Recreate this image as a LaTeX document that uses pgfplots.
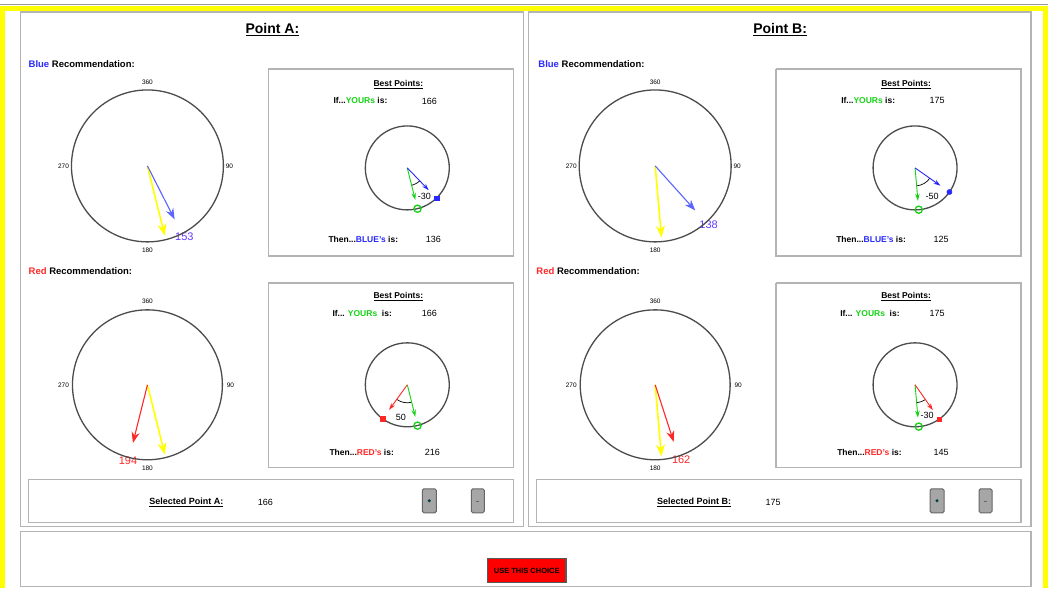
\documentclass[border=0pt]{standalone}
\usepackage{pgfplots}
\pgfplotsset{compat=1.18}
\usepackage{fontspec}
\setmainfont{Liberation Sans}
\usetikzlibrary{arrows.meta}

\definecolor{frameyellow}{RGB}{255,255,0}
\definecolor{panelgray}{RGB}{180,180,180}
\definecolor{recblue}{RGB}{40,40,255}
\definecolor{lineblue}{RGB}{90,100,255}
\definecolor{labblue}{RGB}{100,60,255}
\definecolor{recred}{RGB}{255,40,40}
\definecolor{yourgreen}{RGB}{20,210,20}
\definecolor{ptyellow}{RGB}{255,255,0}
\definecolor{btnred}{RGB}{255,0,0}

\tikzset{
  title/.style={font=\fontsize{14}{16}\selectfont\bfseries},
  sec/.style={font=\fontsize{9.5}{11}\selectfont\bfseries, anchor=west, inner sep=0pt},
  cmp/.style={font=\fontsize{6.5}{7}\selectfont},
  small/.style={font=\fontsize{8.5}{10}\selectfont\bfseries},
  smallw/.style={font=\fontsize{8.5}{10}\selectfont\bfseries, anchor=west, inner sep=0pt},
  num/.style={font=\fontsize{9}{10}\selectfont},
  rec/.style={font=\fontsize{11}{12}\selectfont},
  angl/.style={font=\fontsize{9}{10}\selectfont, inner sep=0.5pt},
}
\pgfplotsset{
  box/.style={draw=panelgray, line width=1.4pt, line join=miter},
  dial/.style={only marks, mark=o, mark size=#1,
    mark options={line width=1.3pt, draw=black!70}},
  big/.style={line width=1.1pt, -{Stealth[length=11pt,width=8pt]}},
  bigy/.style={line width=1.6pt, -{Stealth[length=12pt,width=9pt]}},
  tiny/.style={line width=0.9pt, -{Stealth[length=7pt,width=4.5pt]}},
  btn/.style={fill=black!35, draw=black!60, line width=1pt, rounded corners=1.5pt},
}

\begin{document}
\begin{tikzpicture}
\begin{axis}[
  width=1050pt, height=588pt, scale only axis,
  xmin=0, xmax=1050, ymin=0, ymax=588, y dir=reverse,
  hide axis, clip=false,
  axis background/.style={fill=white},
]

% outer yellow frame
\addplot[black!40, line width=1pt] coordinates {(0,4.5) (1048,4.5)};
\addplot[frameyellow, line width=5pt, line join=miter] coordinates {(2.5,588) (2.5,8.5) (1045,8.5) (1045,588)};

% panels
\addplot[box] coordinates {(20,12) (523,12) (523,527) (20,527) (20,12)};
\addplot[box] coordinates {(528,12) (1031,12) (1031,527) (528,527) (528,12)};
\addplot[box] coordinates {(20,532) (1031,532) (1031,587) (20,587) (20,532)};

% ---------------- Point A ----------------
\node[title] at (axis cs:272,30) {\underline{Point A:}};
\node[sec] at (axis cs:28,64) {\textcolor{recblue}{Blue} Recommendation:};
\node[sec] at (axis cs:28,271) {\textcolor{recred}{Red} Recommendation:};

% blue dial A
\addplot[dial=76pt] coordinates {(147,166)};
\node[cmp] at (axis cs:147,82) {360};
\node[cmp] at (axis cs:229,166) {90};
\node[cmp] at (axis cs:147,250) {180};
\node[cmp] at (axis cs:63,166) {270};
\addplot[ptyellow, bigy] coordinates {(147,166) (164.4,235.9)};
\addplot[lineblue, big] coordinates {(147,166) (174.2,219.5)};
\node[rec, text=labblue] at (axis cs:184,236.5) {153};

% red dial A
\addplot[dial=75pt] coordinates {(147,385)};
\node[cmp] at (axis cs:147,301) {360};
\node[cmp] at (axis cs:230,385) {90};
\node[cmp] at (axis cs:147,468) {180};
\node[cmp] at (axis cs:63,385) {270};
\addplot[ptyellow, bigy] coordinates {(147,385) (164.4,454.9)};
\addplot[recred, big] coordinates {(147,385) (132.5,443.2)};
\node[rec, text=recred] at (axis cs:127.6,461) {194};

% blue best points A
\addplot[box] coordinates {(268,69) (513,69) (513,256) (268,256) (268,69)};
\node[small] at (axis cs:398,85) {\underline{Best Points:}};
\node[smallw] at (axis cs:333,101) {If...\textcolor{yourgreen}{YOURs} is:};
\node[num] at (axis cs:429,101) {166};
\node[smallw] at (axis cs:328,240) {Then...\textcolor{recblue}{BLUE's} is:};
\node[num] at (axis cs:433,240) {136};
\addplot[dial=42pt] coordinates {(407,168)};
\draw[black, line width=0.7pt] (axis cs:407,168) ++(-46:18pt) arc[start angle=-46, end angle=-76, radius=18pt];
\addplot[yourgreen, tiny] coordinates {(407,168) (415.0,200.0)};
\addplot[recblue, tiny] coordinates {(407,168) (428.5,190.3)};
\addplot[only marks, mark=o, mark size=3.6pt, mark options={draw=yourgreen, line width=1.3pt}] coordinates {(417.2,208.8)};
\addplot[only marks, mark=square*, mark size=2.4pt, color=recblue] coordinates {(436.2,198.2)};
\node[angl] at (axis cs:424,196.5) {-30};

% red best points A
\addplot[box] coordinates {(268,283) (513,283) (513,468) (268,468) (268,283)};
\node[small] at (axis cs:398,297) {\underline{Best Points:}};
\node[smallw] at (axis cs:332,314) {If... \textcolor{yourgreen}{YOURs}\ \ is:};
\node[num] at (axis cs:429,314) {166};
\node[smallw] at (axis cs:329,453) {Then...\textcolor{recred}{RED's} is:};
\node[num] at (axis cs:432,453) {216};
\addplot[dial=42pt] coordinates {(407,385)};
\draw[black, line width=0.7pt] (axis cs:407,385) ++(-76:18pt) arc[start angle=-76, end angle=-126, radius=18pt];
\addplot[yourgreen, tiny] coordinates {(407,385) (415.0,417.0)};
\addplot[recred, tiny] coordinates {(407,385) (388.8,410.1)};
\addplot[only marks, mark=o, mark size=3.6pt, mark options={draw=yourgreen, line width=1.3pt}] coordinates {(417.2,425.8)};
\addplot[only marks, mark=square*, mark size=2.4pt, color=recred] coordinates {(382.3,419.0)};
\node[angl] at (axis cs:400.5,417.5) {50};

% selected A
\addplot[box] coordinates {(28,480) (513,480) (513,523) (28,523) (28,480)};
\node[font=\fontsize{9}{10}\selectfont\bfseries] at (axis cs:186,503) {\underline{Selected Point A:}};
\node[num] at (axis cs:265,503) {166};
\addplot[btn] coordinates {(422,489) (436,489) (436,513) (422,513)} -- cycle;
\addplot[btn] coordinates {(471,489) (484,489) (484,513) (471,513)} -- cycle;
\addplot[only marks, mark=*, mark size=1.3pt, color=teal!50!black] coordinates {(429,501)};
\addplot[only marks, mark=-, mark size=1.3pt, color=black!60] coordinates {(477.5,501)};

% ---------------- Point B ----------------
\node[title] at (axis cs:780,30) {\underline{Point B:}};
\node[sec] at (axis cs:538,64) {\textcolor{recblue}{Blue} Recommendation:};
\node[sec] at (axis cs:536,271) {\textcolor{recred}{Red} Recommendation:};

% blue dial B
\addplot[dial=76pt] coordinates {(655,166)};
\node[cmp] at (axis cs:655,82) {360};
\node[cmp] at (axis cs:737,166) {90};
\node[cmp] at (axis cs:655,250) {180};
\node[cmp] at (axis cs:571,166) {270};
\addplot[ptyellow, bigy] coordinates {(655,166) (661.3,237.7)};
\addplot[lineblue, big] coordinates {(655,166) (695.1,210.6)};
\node[rec, text=labblue] at (axis cs:708.5,224.5) {138};

% red dial B
\addplot[dial=75pt] coordinates {(655,385)};
\node[cmp] at (axis cs:655,301) {360};
\node[cmp] at (axis cs:738,385) {90};
\node[cmp] at (axis cs:655,468) {180};
\node[cmp] at (axis cs:571,385) {270};
\addplot[ptyellow, bigy] coordinates {(655,385) (661.3,456.7)};
\addplot[recred, big] coordinates {(655,385) (673.5,442.1)};
\node[rec, text=recred] at (axis cs:681,459.5) {162};

% blue best points B
\addplot[box] coordinates {(776,69) (1021,69) (1021,256) (776,256) (776,69)};
\node[small] at (axis cs:906,85) {\underline{Best Points:}};
\node[smallw] at (axis cs:841,101) {If...\textcolor{yourgreen}{YOURs} is:};
\node[num] at (axis cs:937,101) {175};
\node[smallw] at (axis cs:836,240) {Then...\textcolor{recblue}{BLUE's} is:};
\node[num] at (axis cs:941,240) {125};
\addplot[dial=42pt] coordinates {(915,168)};
\draw[black, line width=0.7pt] (axis cs:915,168) ++(-35:18pt) arc[start angle=-35, end angle=-85, radius=18pt];
\addplot[yourgreen, tiny] coordinates {(915,168) (917.9,200.9)};
\addplot[recblue, tiny] coordinates {(915,168) (940.4,185.8)};
\addplot[only marks, mark=o, mark size=3.6pt, mark options={draw=yourgreen, line width=1.3pt}] coordinates {(918.7,209.8)};
\addplot[only marks, mark=*, mark size=2.6pt, color=recblue] coordinates {(949.4,192.1)};
\node[angl] at (axis cs:932,196.5) {-50};

% red best points B
\addplot[box] coordinates {(776,283) (1021,283) (1021,468) (776,468) (776,283)};
\node[small] at (axis cs:906,297) {\underline{Best Points:}};
\node[smallw] at (axis cs:840,314) {If... \textcolor{yourgreen}{YOURs}\ \ is:};
\node[num] at (axis cs:937,314) {175};
\node[smallw] at (axis cs:837,453) {Then...\textcolor{recred}{RED's} is:};
\node[num] at (axis cs:941,453) {145};
\addplot[dial=42pt] coordinates {(915,385)};
\draw[black, line width=0.7pt] (axis cs:915,385) ++(-55:18pt) arc[start angle=-55, end angle=-85, radius=18pt];
\addplot[yourgreen, tiny] coordinates {(915,385) (917.9,417.9)};
\addplot[recred, tiny] coordinates {(915,385) (932.8,410.4)};
\addplot[only marks, mark=o, mark size=3.6pt, mark options={draw=yourgreen, line width=1.3pt}] coordinates {(918.7,426.8)};
\addplot[only marks, mark=square*, mark size=2.4pt, color=recred] coordinates {(939.1,419.4)};
\node[angl] at (axis cs:927,416) {-30};

% selected B
\addplot[box] coordinates {(536,480) (1021,480) (1021,523) (536,523) (536,480)};
\node[font=\fontsize{9}{10}\selectfont\bfseries] at (axis cs:694,503) {\underline{Selected Point B:}};
\node[num] at (axis cs:773,503) {175};
\addplot[btn] coordinates {(930,489) (944,489) (944,513) (930,513)} -- cycle;
\addplot[btn] coordinates {(979,489) (992,489) (992,513) (979,513)} -- cycle;
\addplot[only marks, mark=*, mark size=1.3pt, color=teal!50!black] coordinates {(937,501)};
\addplot[only marks, mark=-, mark size=1.3pt, color=black!60] coordinates {(985.5,501)};

% use this choice button
\addplot[fill=btnred, draw=black!65, line width=1.5pt] coordinates {(487,559) (566,559) (566,583) (487,583)} -- cycle;
\node[font=\fontsize{7.5}{8}\selectfont\bfseries] at (axis cs:526.5,571) {USE THIS CHOICE};

\end{axis}
\end{tikzpicture}
\end{document}
